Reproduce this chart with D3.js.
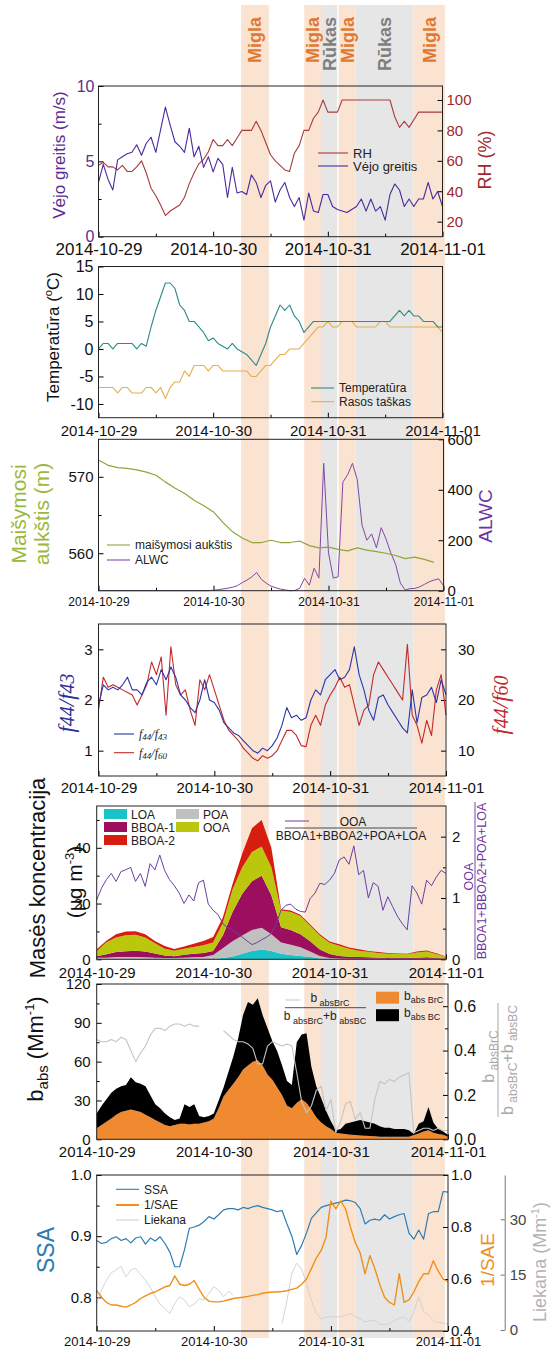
<!DOCTYPE html>
<html>
<head>
<meta charset="utf-8">
<script src="https://cdn.jsdelivr.net/npm/d3@7"></script>
<style>
  body { margin: 0; background: #fff; }
  svg text { font-family: "Liberation Sans", Arial, sans-serif; }
  svg text.serif { font-family: "Liberation Serif", "Times New Roman", serif; font-style: italic; }
</style>
</head>
<body>
<div id="chart"></div>
<script>
var dayLabels = ["2014-10-29", "2014-10-30", "2014-10-31", "2014-11-01"];

//fog (Migla) and mist (Rūkas) periods, hours from start
var bandStart = [29.9, 43.1, 46.6, 50.3, 53.8, 65.9];
var bandEnd = [35.7, 46.6, 50.0, 53.8, 65.9, 72.5];
var bandName = ["Migla", "Migla", "Rūkas", "Migla", "Rūkas", "Migla"];

//panel 1
var windSpeed = [3.6,4.8,3.8,3.1,5.1,5.3,5.5,5.6,6.1,5.4, 6.2,6.6,5.6,7.1,8.6,7.4,6.3,6.0,5.6,7.2,
  5.3,6.0,4.6,5.3,4.3,5.2,4.8,2.6,4.6,2.9, 3.0,2.8,4.1,3.6,2.6,3.4,3.7,2.3,3.1,3.6,
  2.6,2.0,2.6,1.1,2.9,1.7,1.6,2.8,2.8,2.0, 1.8,1.7,1.6,1.8,2.0,2.5,1.7,2.5,1.7,2.0,
  1.1,2.8,3.5,3.1,2.0,2.5,2.0,2.5,2.5,3.6, 2.5,3.0,2.0];
var relHumidity = [57,59,56,56,54,57,53,53,56,60, 52,42,37,31,24,27,29,31,36,45,
  52,58,61,66,74,70,70,74,70,75, 80,80,80,86,80,72,64,60,57,54,
  53,65,70,80,80,88,92,100,92,92, 92,100,100,100,100,100,100,100,100,100,
  100,100,89,82,86,82,87,92,92,92, 92,92,92];

//panel 2
var temperature = [0,1,1,0,1,1,1,1,0,1, 0.5,4,7,9.5,12,12,11,8,7,5,
  5,4,3,1.5,2,1,0.5,0,1,0, -0.5,-1,-2,-3,-1,1,4,6,8,7,
  8,6,5,3,4,5,5,5,5,5, 5,5,5,5,5,5,5,5,5,5,
  5,5,6,7,6,7,6,6,5,5, 5,4,4];
var dewPoint = [-7,-7,-7,-7,-8,-7,-7,-8,-8,-8, -7,-7,-8,-7,-9,-7,-6,-6,-4,-5,
  -3,-3,-3,-4,-3,-3,-4,-4,-4,-4, -4,-4,-5,-5,-4,-3,-3,-2,-1,-1,
  0,0,0,1,2,3,4,4,5,4, 4,5,5,5,4,4,4,4,4,5,
  5,4,4,4,4,4,4,4,4,4, 4,4,3];

//panel 3 (mixing height: step 2 h, 0..70 h)
var mixHeight = [572.2,571.5,571.2,571.1,570.9,570.6,570.2,569.3,568.5,567.8,566.9,566.2,
  565.4,564.0,562.8,562.0,561.4,561.4,561.7,561.4,561.4,561.6,561.0,560.7,
  560.8,560.5,560.3,560.7,560.4,560.2,560.0,559.7,559.3,559.5,559.2,558.8];
var alwc = [0,0,0,0,0,0,0,0,0,0, 0,0,0,0,0,0,0,0,0,0,
  0,0,0,0,2,4,7,10,14,20, 32,42,55,72,45,30,18,12,6,3,
  0,1,10,49,22,89,50,505,150,50, 55,430,460,505,440,260,200,225,170,250,
  205,150,105,30,3,8,9,15,25,35, 42,47,20];

//panel 4
var f44f43 = [1.9,2.3,2.2,2.25,2.2,2.3,2.45,2.2,2.2,2.1, 2.35,2.45,2.3,2.6,2.4,2.65,2.45,2.1,2.0,1.85,
  1.75,2.0,2.4,2.0,1.95,1.8,1.55,1.45,1.35,1.3, 1.2,1.1,1.0,0.95,1.05,1.0,1.1,1.25,1.5,1.85,
  1.65,1.7,1.6,1.65,2.0,2.2,2.1,2.4,2.5,2.6, 2.4,2.45,2.6,3.05,2.5,2.2,1.8,1.6,2.05,2.1,
  1.9,1.75,1.6,1.45,1.35,2.2,1.55,2.05,2.1,2.25, 1.95,2.4,2.1];
var f44f60 = [18,24.5,22.5,23,22.5,22,21.5,21,19,21, 23,27.5,25,28.5,17,30.5,23,21,22,18,
  15,24,22,25,22,19,16,14,13,12, 10.5,9.5,8.5,8,9,8.5,9,10,12,14,
  14,13,11,10.8,15,17,15,19,21,22.5, 24.5,22.5,23,19,15,18,19,25,27.5,26,
  24.5,23,21.5,20,31,17,15,11.5,16,13, 22,25,17];

//panel 5 (organic aerosol factors: step 2 h, 0..72 h)
var loa = [0,0,0,0,0,0,0,0,0,0,0,0,0.2,0.5,1,2,3,3.5,3,2,1.5,1.2,0.8,0.3,0,0,0,0,0,0,0,0,0,0,0,0,0];
var poa = [0.6,0.6,0.8,0.8,0.8,0.7,0.6,0.5,0.5,0.6,0.7,0.8,1.3,3.5,5.5,6.5,7.5,7.8,6,4,3.7,3.1,2,0.9,
  0.5,0.3,0.2,0.2,0.2,0.2,0.2,0.2,0.2,0.2,0.2,0.2,0.1];
var bboa1 = [0.5,1.2,1.8,2.1,2.3,2.1,1.5,0.9,0.6,1,1.3,1.5,1.5,4.5,10.5,15,17.5,18.7,14,5.5,5.3,4.7,3.7,2.3,
  1.4,0.9,0.7,0.6,0.5,0.4,0.3,0.3,0.3,0.4,0.5,0.3,0.2];
var ooa = [1.8,4.3,5.2,5.7,5.7,5,3.7,2.4,2,2.2,2.4,2.7,3,4.5,8,9.5,10.5,10.5,10,6,6.5,6.5,5.5,5,
  4,3.7,2.9,2.3,2,1.7,1.5,1.4,1.3,1.8,2.1,1.4,0.6];
var bboa2 = [0.7,0.6,1.2,1.4,1.3,1.2,0.8,1,0.6,0.8,1.2,1.6,2,2,2,5,8.5,9.5,7,0.5,0.5,0.5,0.5,0.5,
  0.5,0.5,0.4,0.5,0.3,0.3,0.3,0.2,0.2,0.4,0.4,0.3,0.1];
var ooaRatio = [0.97,1.16,1.30,1.40,1.27,1.43,1.46,1.50,1.27,1.40, 1.19,1.56,1.46,1.70,1.45,1.30,1.20,1.08,0.91,1.05,
  0.95,1.25,1.29,0.90,0.80,0.73,0.58,0.52,0.48,0.42, 0.36,0.30,0.24,0.27,0.32,0.36,0.42,0.58,0.80,0.88,
  0.90,0.82,0.78,0.77,0.99,1.08,1.24,1.22,1.29,1.40, 1.62,1.67,1.55,1.85,1.38,1.45,1.00,1.25,1.19,0.80,
  1.02,0.86,0.70,0.58,0.48,1.20,1.08,0.90,1.29,1.20, 1.34,1.45,1.40];

//panel 6
var babsBrC = [8.5,11,13.5,16,19,21,22,23,22,21, 19,17,15,13,11,10,11,12,12,11.5,
  12,12,13,14,16,24,33,38,43,48, 54,57,60,61,57,50,46,40,34,26,
  24,28,31,28,23,17,13,10,8,5, 4.5,4,3.5,3.3,3,2.8,2.5,2.3,2,2,
  2,2,2,2,2,3.3,4.5,6,7,5, 4,3.5,2];
var babsBC = [11.5,15,17.5,20,20,20,20,25,22,22, 22,17,12,11,9,7,4,4,15,13.5,
  15,6,4,4,4,6,7,14,21,30, 42,49,44,48,39,36,30,28,23,19,
  18,47,50,54,33,24,19,12,6,2, 3.5,8,9.5,10.7,12,11.2,10.5,9.7,8,7,
  7,6,6,6,5,0.7,7.5,8,18,8, 4,2.5,1.5];
var brcFraction = [0.45,0.44,0.44,0.45,0.44,0.46,0.45,0.40,0.35,0.39, 0.42,0.47,0.50,0.50,0.49,0.51,0.52,0.52,0.51,0.52,
  0.51,0.51,null,null,null,null,0.49,0.47,0.45,0.44, 0.44,0.43,0.41,0.34,0.34,0.42,0.44,0.43,0.42,0.43,
  0.42,0.30,0.17,0.12,0.15,0.22,0.24,0.13,0.18,0.03, 0.08,0.16,0.17,0.09,0.12,0.05,0.05,0.18,0.26,0.25,
  0.27,0.26,0.28,0.29,0.30,0.03,0.04,0.05,0.05,0.04, 0.05,0.04,0.04];

//panel 7
var ssa = [0.893,0.888,0.890,0.896,0.899,0.893,0.896,0.889,0.897,0.899, 0.887,0.897,0.892,0.899,0.888,0.874,0.850,0.850,0.878,0.913,
  0.915,0.918,0.924,0.932,0.928,0.935,0.943,0.945,0.945,0.943, 0.947,0.945,0.948,0.950,0.947,0.945,0.943,0.940,0.942,0.920,
  0.900,0.870,0.885,0.905,0.929,0.938,0.947,0.950,0.952,0.954, 0.956,0.959,0.958,0.955,0.945,0.920,0.926,0.928,0.926,0.935,
  0.928,0.932,0.935,0.937,0.905,0.895,0.910,0.895,0.937,0.940, 0.940,0.973,0.972];
var invSAE = [0.555,0.53,0.51,0.50,0.50,0.495,0.492,0.50,0.51,0.525, 0.535,0.545,0.55,0.56,0.57,0.575,0.612,0.58,0.575,0.58,
  0.594,0.56,0.53,0.515,0.512,0.512,0.515,0.52,0.525,0.528, 0.53,0.533,0.537,0.54,0.545,0.548,0.55,0.55,0.552,0.555,
  0.56,0.565,0.58,0.60,0.64,0.68,0.71,0.76,0.90,0.87, 0.90,0.87,0.80,0.74,0.70,0.62,0.69,0.64,0.58,0.53,
  0.51,0.50,0.62,0.51,0.52,0.55,0.59,0.62,0.62,0.67, 0.63,0.60,0.59];
var liekana = [7,11,13.5,15.5,16.3,17.2,14.4,16.3,16.7,15, 13.5,11.5,9,7,5.8,4.5,7.2,9,8.1,6.3,
  7,8.5,8.1,10,11.7,10.8,9,10.5,9.5,null, null,null,null,null,null,null,null,null,1.8,8,
  15.4,18.1,16.5,12.7,8,4.5,3,3.5,3.6,3.6, 3.6,4,4.5,3.6,3,2.2,2.5,2.7,1.5,1.4,
  1.8,2.5,3.2,3.6,2.2,5,9,5,4,2.5, 2,1.9,1.5];

//---------------------------------------------------------------
var t0 = new Date(2014, 9, 29);
var hr = (h) => new Date(t0.getTime() + h * 3600000);

var svg = d3.select("#chart").append("svg")
  .attr("width", 551).attr("height", 1349)
  .style("background", "#fff");

//fog / mist bands run through the whole figure
var xBand = d3.scaleTime().domain([t0, hr(72)]).range([98, 442.5]);
var isFog = (i) => bandName[i] === "Migla";
svg.append("g").selectAll("rect")
  .data(bandStart).enter().append("rect")
  .attr("x", (d) => xBand(hr(d)))
  .attr("width", (d, i) => xBand(hr(bandEnd[i])) - xBand(hr(d)))
  .attr("y", 5).attr("height", 1333)
  .attr("fill", (d, i) => isFog(i) ? "#fbe3d2" : "#e6e6e6");
svg.append("g").selectAll("text")
  .data(bandStart).enter().append("text")
  .attr("transform", (d, i) => "translate(" + xBand(hr((d + bandEnd[i]) / 2)) + ",17) rotate(-90)")
  .attr("text-anchor", "end").attr("dy", "0.36em")
  .attr("font-size", 18).attr("font-weight", "bold")
  .attr("fill", (d, i) => isFog(i) ? "#e07a32" : "#7f7f7f")
  .text((d, i) => bandName[i]);

function addPanel(p) {
  p.x = d3.scaleTime().domain([t0, hr(72)]).range([p.left, p.right]);
  p.g = svg.append("g");
  var xa = p.g.append("g").attr("transform", "translate(0," + p.bottom + ")")
    .call(d3.axisBottom(p.x).tickValues([0, 24, 48, 72].map(hr)).tickSize(-5)
      .tickFormat((d, i) => dayLabels[i]))
    .attr("font-size", p.xFont);
  xa.select(".domain").remove();
  xa.selectAll("text").attr("y", p.xGap).attr("dy", null).attr("fill", "#111");
  p.g.append("g").attr("transform", "translate(0," + p.bottom + ")")
    .call(d3.axisBottom(p.x).tickValues([12, 36, 60].map(hr)).tickSize(-3).tickFormat(""))
    .select(".domain").remove();
  return p;
}

function addY(p, y, side, ticks, minor, color, font, pad, fmt) {
  var make = () => side === "left" ? d3.axisLeft(y) : d3.axisRight(y);
  var at = side === "left" ? p.left : p.right;
  var ga = p.g.append("g").attr("transform", "translate(" + at + ",0)")
    .call(make().tickValues(ticks).tickSize(-5).tickPadding(pad).tickFormat(fmt || ((d) => d)))
    .attr("font-size", font);
  ga.select(".domain").remove();
  ga.selectAll("text").attr("fill", color);
  if (minor) {
    p.g.append("g").attr("transform", "translate(" + at + ",0)")
      .call(make().tickValues(minor).tickSize(-3).tickFormat(""))
      .select(".domain").remove();
  }
}

function addLine(p, y, values, step, color, width) {
  var line = d3.line()
    .defined((d) => d != null)
    .x((d, i) => p.x(hr(i * step)))
    .y((d) => y(d));
  p.g.append("path").datum(values)
    .attr("d", line)
    .attr("fill", "none")
    .attr("stroke", color)
    .attr("stroke-width", width || 1.1)
    .attr("stroke-linejoin", "round");
}

function closeFrame(p) {
  p.g.append("rect")
    .attr("x", p.left).attr("y", p.top)
    .attr("width", p.right - p.left).attr("height", p.bottom - p.top)
    .attr("fill", "none").attr("stroke", "#222").attr("stroke-width", 1);
}

//text with sub/superscript parts: {t, size, rise}
function rich(sel, parts, baseDy) {
  var cur = 0;
  parts.forEach((q, i) => {
    var r = q.rise || 0;
    var ts = sel.append("tspan").text(q.t).attr("dy", (i === 0 ? (baseDy || 0) : 0) + cur - r);
    cur = r;
    if (q.size) ts.attr("font-size", q.size);
    if (q.cls) ts.attr("class", q.cls);
  });
  return sel;
}

function vTitle(x, y, parts, size, color, cls) {
  var t = svg.append("text")
    .attr("transform", "translate(" + x + "," + y + ") rotate(-90)")
    .attr("text-anchor", "middle")
    .attr("font-size", size).attr("fill", color);
  if (cls) t.attr("class", cls);
  return rich(t, parts, size * 0.35);
}

function legendLine(p, x1, x2, y, color, parts, font, width, cls) {
  p.g.append("line").attr("x1", x1).attr("x2", x2).attr("y1", y).attr("y2", y)
    .attr("stroke", color).attr("stroke-width", width || 1.1);
  var t = p.g.append("text").attr("x", x2 + 5).attr("y", y + font * 0.35)
    .attr("font-size", font).attr("fill", "#222");
  if (cls) t.attr("class", cls);
  rich(t, parts, 0);
}

//---- panel 1: wind speed and RH ----
var p1 = addPanel({ top: 86, bottom: 236.7, left: 98.5, right: 442.5, xFont: 17, xGap: 18.5 });
var yWind = d3.scaleLinear().domain([0, 10]).range([p1.bottom, p1.top]);
var yRH = d3.scaleLinear().domain([10.1, 109.2]).range([p1.bottom, p1.top]);
addY(p1, yWind, "left", [0, 5, 10], [2.5, 7.5], "#5b2c91", 16, 4);
addY(p1, yRH, "right", [20, 40, 60, 80, 100], null, "#a0282d", 15, 4);
addLine(p1, yRH, relHumidity, 1, "#a83a3c");
addLine(p1, yWind, windSpeed, 1, "#4a2a9c");
legendLine(p1, 318, 348, 153, "#a83a3c", [{ t: "RH" }], 13);
legendLine(p1, 318, 348, 166, "#4a2a9c", [{ t: "Vėjo greitis" }], 13);
closeFrame(p1);
vTitle(59, 155, [{ t: "Vėjo greitis (m/s)" }], 17, "#5b2c91");
vTitle(485, 160, [{ t: "RH (%)" }], 18, "#a0282d");

//---- panel 2: temperature and dew point ----
var p2 = addPanel({ top: 266.5, bottom: 417.7, left: 98.5, right: 442.5, xFont: 15, xGap: 18.5 });
var yT = d3.scaleLinear().domain([-12.5, 15]).range([p2.bottom, p2.top]);
addY(p2, yT, "left", [-10, -5, 0, 5, 10, 15], null, "#111", 16, 5);
addLine(p2, yT, dewPoint, 1, "#e4b04c");
addLine(p2, yT, temperature, 1, "#2e8b87");
legendLine(p2, 311, 334, 388, "#2e8b87", [{ t: "Temperatūra" }], 12);
legendLine(p2, 311, 334, 401.7, "#e4b04c", [{ t: "Rasos taškas" }], 12);
closeFrame(p2);
vTitle(53, 337, [{ t: "Temperatūra (" }, { t: "o", size: 11, rise: 7 }, { t: "C)" }], 17, "#111");

//---- panel 3: mixing height and ALWC ----
var p3 = addPanel({ top: 439.3, bottom: 590.7, left: 98.5, right: 443.5, xFont: 12, xGap: 15.5 });
var yMix = d3.scaleLinear().domain([555.1, 574.9]).range([p3.bottom, p3.top]);
var yAlwc = d3.scaleLinear().domain([0, 600]).range([p3.bottom, p3.top]);
addY(p3, yMix, "left", [560, 570], [565], "#111", 15, 5);
addY(p3, yAlwc, "right", [0, 200, 400, 600], null, "#111", 15, 4);
addLine(p3, yAlwc, alwc, 1, "#8049a3", 1);
addLine(p3, yMix, mixHeight, 2, "#8fa53a", 1.2);
legendLine(p3, 107, 130, 545, "#8fa53a", [{ t: "maišymosi aukštis" }], 12);
legendLine(p3, 107, 130, 560, "#8049a3", [{ t: "ALWC" }], 12);
closeFrame(p3);
vTitle(19, 514, [{ t: "Maišymosi" }], 21, "#9cb83c");
vTitle(42, 514, [{ t: "aukštis (m)" }], 21, "#9cb83c");
vTitle(485, 516, [{ t: "ALWC" }], 19, "#7030a0");

//---- panel 4: f44/f43 and f44/f60 ----
var p4 = addPanel({ top: 624, bottom: 776, left: 98.5, right: 446, xFont: 15, xGap: 17 });
var yF43 = d3.scaleLinear().domain([0.5, 3.5]).range([p4.bottom, p4.top]);
var yF60 = d3.scaleLinear().domain([5, 35]).range([p4.bottom, p4.top]);
addY(p4, yF43, "left", [1, 2, 3], null, "#111", 15, 6);
addY(p4, yF60, "right", [10, 20, 30], null, "#111", 15, 12);
addLine(p4, yF60, f44f60, 1, "#c22a2a");
addLine(p4, yF43, f44f43, 1, "#2b35a8");
var fracParts = (den) => [{ t: "f" }, { t: "44", size: 9, rise: -2 }, { t: "/f" }, { t: den, size: 9, rise: -2 }];
legendLine(p4, 114, 134, 734, "#2b35a8", fracParts("43"), 12, 1.1, "serif");
legendLine(p4, 114, 134, 752.7, "#c22a2a", fracParts("60"), 12, 1.1, "serif");
closeFrame(p4);
vTitle(66, 703, [{ t: "f" }, { t: "44", size: 20 }, { t: "/f" }, { t: "43", size: 20 }], 23, "#2e3192", "serif");
vTitle(500, 705, [{ t: "f" }, { t: "44", size: 20 }, { t: "/f" }, { t: "60", size: 20 }], 23, "#c1272d", "serif");

//---- panel 5: OA mass concentration ----
var p5 = addPanel({ top: 806, bottom: 959.3, left: 96.7, right: 446, xFont: 15, xGap: 18.5 });
var yMass = d3.scaleLinear().domain([0, 55]).range([p5.bottom, p5.top]);
var yRatio = d3.scaleLinear().domain([0, 2.5]).range([p5.bottom, p5.top]);
addY(p5, yMass, "left", [0, 20, 40], [10, 30, 50], "#111", 15, 6);
addY(p5, yRatio, "right", [0, 1, 2], [0.5, 1.5], "#111", 15, 6);
var oaKeys = ["LOA", "POA", "BBOA-1", "OOA", "BBOA-2"];
var oaColors = ["#18c2c8", "#c0c0c0", "#9c0e5e", "#bac70c", "#d71c10"];
var oaSeries = [loa, poa, bboa1, ooa, bboa2];
var oaTable = loa.map((d, i) => {
  var row = { h: i * 2 };
  oaKeys.forEach((k, j) => { row[k] = oaSeries[j][i]; });
  return row;
});
var oaArea = d3.area()
  .x((d) => p5.x(hr(d.data.h)))
  .y0((d) => yMass(d[0]))
  .y1((d) => yMass(d[1]));
p5.g.append("g").selectAll("path")
  .data(d3.stack().keys(oaKeys)(oaTable)).enter().append("path")
  .attr("d", oaArea)
  .attr("fill", (d, i) => oaColors[i]);
addLine(p5, yRatio, ooaRatio, 1, "#6a3fa0", 1);
//legend swatches: LOA, BBOA-1, BBOA-2 in first column, POA, OOA in second
var swatchOrder = [0, 2, 4, 1, 3];
swatchOrder.forEach((k, n) => {
  var col = n < 3 ? 0 : 1, row = n < 3 ? n : n - 3;
  var sx = 104 + col * 72, sy = 809 + row * 13;
  p5.g.append("rect").attr("x", sx).attr("y", sy).attr("width", 23).attr("height", 10)
    .attr("fill", oaColors[k]);
  p5.g.append("text").attr("x", sx + 27).attr("y", sy + 9.5)
    .attr("font-size", 12).attr("fill", "#222").text(oaKeys[k]);
});
p5.g.append("line").attr("x1", 285).attr("x2", 309).attr("y1", 821).attr("y2", 821)
  .attr("stroke", "#6a3fa0");
p5.g.append("text").attr("x", 353).attr("y", 825.5).attr("text-anchor", "middle")
  .attr("font-size", 12).attr("fill", "#222").text("OOA");
p5.g.append("line").attr("x1", 285).attr("x2", 417).attr("y1", 828).attr("y2", 828)
  .attr("stroke", "#222").attr("stroke-width", 0.8);
p5.g.append("text").attr("x", 351).attr("y", 839.5).attr("text-anchor", "middle")
  .attr("font-size", 12).attr("fill", "#222").text("BBOA1+BBOA2+POA+LOA");
closeFrame(p5);
vTitle(37, 878, [{ t: "Masės koncentracija" }], 22, "#111");
vTitle(75, 882, [{ t: "(µg m" }, { t: "-3", size: 13, rise: 8 }, { t: ")" }], 21, "#111");
var fr5 = svg.append("g").attr("transform", "translate(474,881) rotate(-90)")
  .attr("fill", "#7030a0").attr("font-size", 12.5);
fr5.append("text").attr("x", 4.5).attr("y", -1.5).attr("text-anchor", "middle").text("OOA");
fr5.append("line").attr("x1", -79).attr("x2", 79).attr("y1", 1).attr("y2", 1)
  .attr("stroke", "#7030a0").attr("stroke-width", 0.9);
fr5.append("text").attr("x", 0).attr("y", 11.5).attr("text-anchor", "middle").text("BBOA1+BBOA2+POA+LOA");

//---- panel 6: light absorption ----
var p6 = addPanel({ top: 984, bottom: 1139.3, left: 96.7, right: 448, xFont: 15, xGap: 17.5 });
var yAbs = d3.scaleLinear().domain([0, 120]).range([p6.bottom, p6.top]);
var yFrac = d3.scaleLinear().domain([0, 0.7]).range([p6.bottom, p6.top]);
addY(p6, yAbs, "left", [0, 30, 60, 90, 120], [15, 45, 75, 105], "#111", 15, 6);
addY(p6, yFrac, "right", [0, 0.2, 0.4, 0.6], [0.1, 0.3, 0.5], "#111", 16, 6, d3.format(".1f"));
var absKeys = ["BrC", "BC"];
var absColors = ["#f08a30", "#000000"];
var absTable = babsBrC.map((d, i) => ({ h: i, BrC: d, BC: babsBC[i] }));
var absArea = d3.area()
  .x((d) => p6.x(hr(d.data.h)))
  .y0((d) => yAbs(d[0]))
  .y1((d) => yAbs(d[1]));
p6.g.append("g").selectAll("path")
  .data(d3.stack().keys(absKeys)(absTable)).enter().append("path")
  .attr("d", absArea)
  .attr("fill", (d, i) => absColors[i]);
addLine(p6, yFrac, brcFraction, 1, "#c4c4c4", 1.1);
//legend: ratio line with fraction, then swatches
p6.g.append("line").attr("x1", 285.5).attr("x2", 300.5).attr("y1", 1000).attr("y2", 1000)
  .attr("stroke", "#c4c4c4");
rich(p6.g.append("text").attr("x", 330).attr("y", 1002).attr("text-anchor", "middle")
  .attr("font-size", 12).attr("fill", "#222"),
  [{ t: "b" }, { t: " absBrC", size: 9, rise: -4 }]);
p6.g.append("line").attr("x1", 285).attr("x2", 366).attr("y1", 1007.7).attr("y2", 1007.7)
  .attr("stroke", "#222").attr("stroke-width", 0.8);
rich(p6.g.append("text").attr("x", 325).attr("y", 1020).attr("text-anchor", "middle")
  .attr("font-size", 12).attr("fill", "#222"),
  [{ t: "b" }, { t: " absBrC", size: 9, rise: -4 }, { t: "+b", size: 12 }, { t: " absBC", size: 9, rise: -4 }]);
[["abs BrC", 0], ["abs BC", 1]].forEach((s, n) => {
  var sy = 991.7 + n * 17.5;
  p6.g.append("rect").attr("x", 376).attr("y", sy).attr("width", 23).attr("height", 12)
    .attr("fill", absColors[s[1]]);
  rich(p6.g.append("text").attr("x", 404).attr("y", sy + 8).attr("font-size", 12).attr("fill", "#222"),
    [{ t: "b" }, { t: s[0], size: 9, rise: -3 }]);
});
closeFrame(p6);
vTitle(35, 1049, [{ t: "b" }, { t: "abs", size: 15, rise: -5 }, { t: " (Mm" }, { t: "-1", size: 13, rise: 9 }, { t: ")" }], 22, "#111");
var fr6 = svg.append("g").attr("transform", "translate(498,1060) rotate(-90)")
  .attr("fill", "#a8a8a8").attr("font-size", 16);
rich(fr6.append("text").attr("x", 3.5).attr("y", -4).attr("text-anchor", "middle"),
  [{ t: "b" }, { t: " absBrC", size: 12, rise: -4 }]);
fr6.append("line").attr("x1", -57).attr("x2", 57).attr("y1", 0).attr("y2", 0)
  .attr("stroke", "#a8a8a8").attr("stroke-width", 1);
rich(fr6.append("text").attr("x", 0).attr("y", 15).attr("text-anchor", "middle"),
  [{ t: "b" }, { t: " absBrC", size: 12, rise: -4 }, { t: "+b", size: 16 }, { t: " absBC", size: 12, rise: -4 }]);

//---- panel 7: SSA, 1/SAE and extinction ----
var p7 = addPanel({ top: 1175, bottom: 1331, left: 96.7, right: 448, xFont: 13, xGap: 15 });
var ySSA = d3.scaleLinear().domain([0.745, 1.0]).range([p7.bottom, p7.top]);
var ySAE = d3.scaleLinear().domain([0.4, 1.0]).range([p7.bottom, p7.top]);
var yLiek = d3.scaleLinear().domain([0, 42]).range([1330, 1175]);
addY(p7, ySSA, "left", [0.8, 0.9, 1.0], [0.85, 0.95], "#111", 15, 5, d3.format(".1f"));
addY(p7, ySAE, "right", [0.4, 0.6, 0.8, 1.0], null, "#111", 15, 3, d3.format(".1f"));
addLine(p7, yLiek, liekana, 1, "#cfcfcf", 0.9);
addLine(p7, ySSA, ssa, 1, "#2d7db3", 1.2);
addLine(p7, ySAE, invSAE, 1, "#f0901a", 1.4);
legendLine(p7, 116, 139, 1189.3, "#2d7db3", [{ t: "SSA" }], 12);
legendLine(p7, 116, 139, 1205, "#f0901a", [{ t: "1/SAE" }], 12, 2);
legendLine(p7, 116, 139, 1220, "#cfcfcf", [{ t: "Liekana" }], 12);
closeFrame(p7);
var la = svg.append("g").attr("transform", "translate(504.7,0)")
  .call(d3.axisRight(yLiek).tickValues([0, 15, 30]).tickSize(-4).tickSizeOuter(0).tickPadding(5))
  .attr("font-size", 15);
la.select(".domain").attr("stroke", "#777");
la.selectAll("line").attr("stroke", "#777");
la.selectAll("text").attr("fill", "#444");
vTitle(46, 1250, [{ t: "SSA" }], 23, "#2b7bb0");
vTitle(487, 1260, [{ t: "1/SAE" }], 19, "#f0901e");
vTitle(539.5, 1262, [{ t: "Liekana (Mm" }, { t: "-1", size: 11, rise: 7 }, { t: ")" }], 18, "#b3b3b3");
</script>
</body>
</html>
